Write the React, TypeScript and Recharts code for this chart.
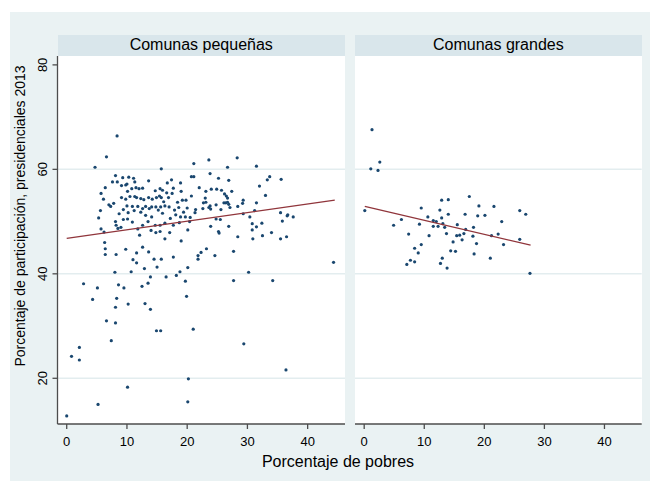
import { ScatterChart, Scatter, XAxis, YAxis, ReferenceLine } from 'recharts';

type Pt = [number, number];

// Comunas pequeñas: [porcentaje de pobres, participación]
const pequenasAlta: Pt[] = [
  [8.36, 66.4], [6.6, 62.4], [4.7, 60.4], [15.7, 60.1], [21.1, 61.1],
  [8.1, 58.8], [9.3, 58.4], [10.3, 58.5], [11.1, 58.3], [7.6, 57.6], [8.4, 57.6], [9.1, 56.9], [9.8, 57.0],
  [10.0, 57.2], [11.3, 57.6], [13.6, 57.8], [17.4, 58.0], [16.7, 57.4], [18.9, 57.4], [21.1, 58.6], [20.7, 58.6],
  [6.4, 56.5], [10.8, 56.3], [11.5, 56.5], [12.0, 56.3], [12.6, 56.4], [14.7, 55.9], [15.5, 56.3], [15.9, 56.0],
  [16.6, 55.5], [17.7, 56.4], [19.0, 55.8],
  [5.7, 55.4], [10.1, 55.8], [10.5, 54.8], [11.3, 54.8], [11.6, 54.6], [12.3, 54.4], [12.8, 54.2], [13.6, 54.6],
  [14.2, 54.3], [14.9, 54.6], [15.4, 54.9], [15.7, 54.6], [16.1, 53.8], [16.9, 54.6], [17.5, 55.4], [18.4, 53.7],
  [19.2, 54.1], [19.8, 54.1], [20.7, 54.9],
  [6.1, 54.3], [7.8, 53.5], [9.1, 54.6], [9.8, 54.3], [10.0, 53.0], [10.9, 52.9], [11.8, 52.9], [12.6, 52.5],
  [13.1, 52.9], [13.7, 52.5], [14.1, 52.8], [14.8, 52.8], [15.6, 52.8], [16.3, 53.0], [17.0, 52.8], [17.9, 52.2],
  [18.6, 52.7], [19.4, 51.8], [20.0, 52.6], [21.4, 52.3],
  [5.6, 52.1], [7.0, 53.2], [7.3, 52.9], [8.7, 51.5], [9.4, 52.3], [10.2, 51.7], [11.2, 52.1], [12.3, 51.8],
  [13.1, 51.2], [14.1, 50.9], [15.2, 52.2], [15.9, 51.6], [17.2, 50.6], [18.1, 51.3], [18.9, 50.9], [19.7, 50.9],
  [20.5, 50.8], [21.3, 51.7],
  [5.3, 50.7], [8.1, 50.0], [9.4, 50.4], [10.1, 50.5], [10.9, 49.9], [12.6, 49.3], [13.5, 50.0], [14.7, 49.3],
  [15.5, 49.3], [16.3, 49.7], [17.7, 49.3], [18.7, 49.8], [20.4, 50.0], [20.1, 48.4],
  [5.7, 48.6], [6.2, 48.0], [8.2, 49.3], [8.5, 48.7], [9.0, 48.9], [11.8, 48.6], [14.0, 48.3], [14.8, 47.9],
  [15.5, 48.1], [17.1, 47.9],
  [6.3, 46.0], [6.4, 44.8], [6.4, 43.7], [8.2, 43.7], [9.8, 44.7], [11.6, 44.0], [12.1, 47.4], [12.6, 45.1],
  [13.6, 44.2], [14.5, 42.8], [15.7, 42.8], [16.3, 46.7], [17.7, 43.2], [19.0, 46.3],
];

const pequenasDerecha: Pt[] = [
  [23.6, 61.8], [28.3, 62.2], [26.7, 60.4], [31.5, 60.6], [23.8, 59.2], [25.2, 58.3], [26.9, 57.9], [33.7, 58.6],
  [33.3, 58.0], [35.6, 58.1], [32.0, 56.8], [22.0, 56.5], [23.1, 55.8], [24.0, 56.2], [24.9, 56.2], [25.7, 56.0],
  [27.4, 55.8], [26.2, 55.3], [26.5, 54.9], [26.7, 54.5], [33.0, 55.0], [23.0, 54.5], [22.7, 53.6], [23.1, 53.7],
  [23.8, 53.0], [23.6, 52.7], [24.8, 53.2], [25.6, 52.3], [26.1, 53.6], [26.4, 53.6], [26.7, 53.7], [26.9, 53.3],
  [27.1, 52.7], [28.4, 52.9], [29.2, 53.5], [29.3, 54.1], [31.5, 53.6], [22.6, 52.5], [23.9, 52.4], [29.3, 51.5],
  [31.2, 52.1], [35.5, 51.7], [36.6, 51.1], [36.7, 51.3], [37.6, 50.9], [35.8, 50.1], [30.4, 50.9], [24.8, 50.5],
  [25.5, 50.4], [30.8, 49.6], [32.4, 49.7], [23.9, 49.1], [26.9, 49.1], [31.5, 49.0], [25.2, 48.1], [25.3, 47.8],
  [30.8, 48.4], [32.5, 47.3], [34.0, 47.9], [28.4, 47.1], [30.9, 46.7], [35.5, 46.7], [36.5, 47.1], [23.2, 44.8],
  [24.6, 43.5], [27.7, 44.3], [21.8, 43.5], [21.8, 42.8], [22.3, 44.1],
];

const pequenasBaja: Pt[] = [
  [0, 12.8], [0.8, 24.2], [2.1, 25.9], [2.1, 23.5], [2.8, 38.1], [4.3, 35.1], [5.1, 37.3], [5.2, 15.0],
  [6.6, 31.0], [7.4, 27.2], [8.0, 40.3], [8.1, 33.6], [8.1, 30.6], [8.3, 35.3], [8.6, 37.9], [9.5, 37.3],
  [10.1, 18.3], [10.2, 34.2], [10.7, 40.4], [11.0, 42.7], [11.6, 42.1], [12.5, 37.6], [12.9, 41.0], [13.0, 34.3],
  [13.5, 38.2], [13.9, 33.2], [13.9, 39.4], [14.9, 29.1], [15.0, 41.3], [15.6, 29.1], [16.5, 39.4], [18.2, 39.7],
  [18.8, 40.4], [19.7, 38.6], [19.9, 35.7], [20.1, 41.2], [20.2, 19.9], [20.1, 15.5], [21.0, 29.4], [27.7, 38.7],
  [29.4, 26.6], [30.2, 40.3], [34.2, 38.7], [36.4, 21.6], [44.3, 42.2],
];

// Comunas grandes
const grandes: Pt[] = [
  [0.1, 52.1], [1.3, 67.6], [1.1, 60.1], [2.3, 59.8], [2.6, 61.4], [4.9, 49.3], [6.2, 50.4], [7.1, 41.8],
  [7.4, 47.6], [7.7, 42.6], [8.4, 42.3], [8.4, 44.9], [9.0, 44.0], [9.2, 49.5], [9.5, 45.6], [9.5, 52.6],
  [10.6, 50.9], [10.8, 47.3], [11.5, 50.2], [11.5, 49.1], [12.0, 50.0], [12.3, 49.1], [12.6, 52.2], [12.7, 42.0],
  [12.9, 54.1], [12.9, 50.7], [13.0, 43.0], [13.1, 49.6], [13.4, 48.9], [13.7, 47.7], [13.8, 41.1], [14.0, 54.2],
  [14.0, 51.4], [14.4, 44.4], [14.8, 46.1], [15.2, 44.3], [15.4, 47.3], [15.5, 49.4], [15.9, 47.4], [16.3, 46.5],
  [16.6, 47.7], [16.8, 51.4], [16.9, 48.5], [17.5, 54.8], [18.1, 47.2], [18.2, 48.9], [18.3, 43.8], [18.7, 45.8],
  [18.9, 51.1], [19.1, 53.0], [20.1, 51.2], [21.0, 43.0], [21.2, 47.3], [21.6, 52.9], [22.3, 47.6], [22.9, 50.0],
  [23.2, 45.6], [25.9, 52.1], [25.9, 46.6], [26.9, 51.4], [27.6, 40.1],
];

// fitted lines
const fitPequenas: Pt[] = [[0, 46.8], [44.5, 54.1]];
const fitGrandes: Pt[] = [[0.1, 52.9], [27.7, 45.5]];

const xTicks = [0, 10, 20, 30, 40];
const yTicks = [20, 40, 60, 80];
const gridValues = [20, 40, 60];
const panelTitles = ['Comunas pequeñas', 'Comunas grandes'];

const FONT = "'Liberation Sans', Arial, sans-serif";
const NAVY = '#1a476f';
const MAROON = '#90353b';
const AXIS = '#4d4d4d';
const X_DOMAIN: [number, number] = [-1.53, 46.2];
const Y_DOMAIN: [number, number] = [11.25, 81.7];

const toObj = (pts: Pt[]) => pts.map(([x, y]) => ({ x, y }));

const Dot = (p: any) => <circle cx={p.cx} cy={p.cy} r={1.6} fill={NAVY} />;

const YTick = ({ x, y, payload }: any) => {
  const cx = x - 8;
  return (
    <text
      x={cx}
      y={y}
      transform={`rotate(-90 ${cx} ${y})`}
      textAnchor="middle"
      dominantBaseline="central"
      fontSize={13}
      fill="#000"
      fontFamily={FONT}
    >
      {payload.value}
    </text>
  );
};

function Panel({ data, fit, left, right, showY }: { data: Pt[]; fit: Pt[]; left: number; right: number; showY: boolean }) {
  return (
    <div style={{ position: 'absolute', left: 0, top: 0 }}>
      <ScatterChart
        width={654}
        height={482}
        margin={{ top: 56, right, bottom: 0, left: showY ? left - 50 : left }}
      >
        <XAxis
          type="number"
          dataKey="x"
          domain={X_DOMAIN}
          ticks={xTicks}
          allowDataOverflow
          height={58}
          tickSize={5}
          tickMargin={8}
          tick={{ fontSize: 13, fill: '#000', fontFamily: FONT }}
          axisLine={{ stroke: AXIS, strokeWidth: 1.3 }}
          tickLine={{ stroke: AXIS, strokeWidth: 1.3 }}
        />
        <YAxis
          type="number"
          dataKey="y"
          domain={Y_DOMAIN}
          ticks={yTicks}
          allowDataOverflow
          hide={!showY}
          width={showY ? 50 : 0}
          tickSize={5}
          tick={<YTick />}
          axisLine={{ stroke: AXIS, strokeWidth: 1.3 }}
          tickLine={{ stroke: AXIS, strokeWidth: 1.3 }}
        />
        {gridValues.map(v => (
          <ReferenceLine key={v} y={v} stroke="#e3edef" strokeWidth={1.5} />
        ))}
        <Scatter data={toObj(data)} shape={Dot} isAnimationActive={false} />
        <Scatter
          data={toObj(fit)}
          line={{ stroke: MAROON, strokeWidth: 1.3 }}
          shape={() => <g />}
          isAnimationActive={false}
        />
      </ScatterChart>
    </div>
  );
}

export default function App() {
  const panels = [
    { x: 57.5, w: 287.5 },
    { x: 355, w: 286.7 },
  ];
  return (
    <div style={{ position: 'absolute', left: 0, top: 0, width: 654, height: 482, background: '#fff', fontFamily: FONT }}>
      <div style={{ position: 'absolute', left: 10, top: 12, width: 640, height: 469, background: '#eaf2f3' }} />
      {panels.map((p, i) => (
        <div key={i}>
          <div
            style={{
              position: 'absolute', left: p.x, top: 35, width: p.w, height: 21, background: '#d9e6eb',
              textAlign: 'center', fontSize: 16, lineHeight: '19px', color: '#000',
            }}
          >
            {panelTitles[i]}
          </div>
          <div style={{ position: 'absolute', left: p.x, top: 56, width: p.w, height: 368, background: '#fff' }} />
        </div>
      ))}
      <Panel data={[...pequenasAlta, ...pequenasDerecha, ...pequenasBaja]} fit={fitPequenas} left={57.5} right={309} showY />
      <Panel data={grandes} fit={fitGrandes} left={355} right={12.3} showY={false} />
      <div
        style={{
          position: 'absolute', left: 20, top: 216, transform: 'translate(-50%, -50%) rotate(-90deg)',
          whiteSpace: 'nowrap', fontSize: 14, color: '#000',
        }}
      >
        Porcentaje de participación, presidenciales 2013
      </div>
      <div
        style={{
          position: 'absolute', left: 238, top: 452, width: 200, textAlign: 'center',
          fontSize: 16, lineHeight: '19px', color: '#000', whiteSpace: 'nowrap',
        }}
      >
        Porcentaje de pobres
      </div>
    </div>
  );
}
